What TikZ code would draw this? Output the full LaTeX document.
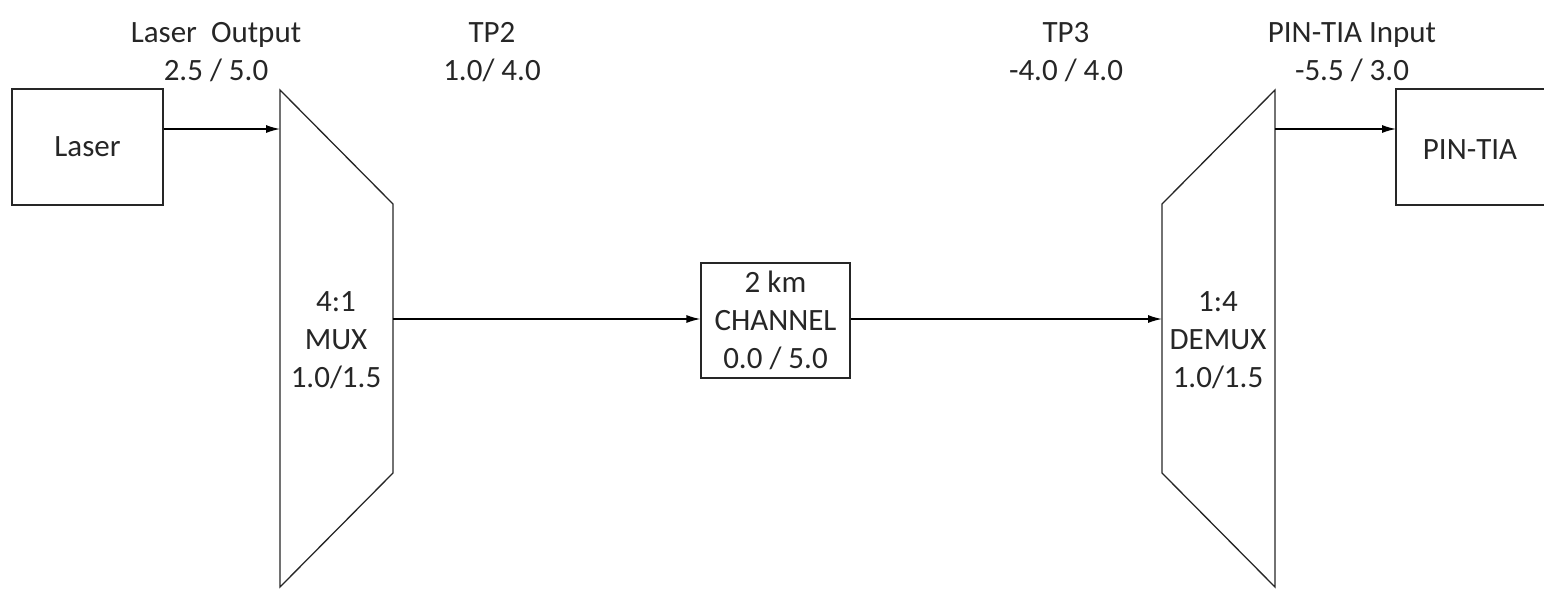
\documentclass[tikz,border=0pt]{standalone}
\usepackage{fontspec}
\setmainfont{Carlito}
\usetikzlibrary{arrows.meta}
\tikzset{
  wire/.style={line width=1.3pt,-{Latex[length=14pt,width=8pt]}},
  shapeline/.style={line width=1.3pt,draw=black!85},
  lbl/.style={align=center,font=\fontsize{31}{38}\selectfont,text=black!85,inner sep=0pt},
  boxnode/.style={draw=black!85,line width=1.3pt,align=center,font=\fontsize{31}{38}\selectfont,text=black!85,inner sep=0pt}
}
\begin{document}
\begin{tikzpicture}[x=1pt,y=-1pt]
\useasboundingbox (0,0) rectangle (1544,589);
% Laser box
\node[boxnode,minimum width=151pt,minimum height=116pt] (laser) at (87.5,147) {Laser};
% MUX trapezoid
\draw[shapeline] (280,90) -- (393,204) -- (393,473) -- (280,587) -- cycle;
\node[lbl] (mux) at (336,340) {4:1\\MUX\\1.0/1.5};
\coordinate (muxin) at (280,129);
\coordinate (muxout) at (393,319);
% Channel
\node[boxnode,minimum width=149pt,minimum height=115pt] (chan) at (775.5,320.5) {2 km\\CHANNEL\\0.0 / 5.0};
% DEMUX trapezoid
\draw[shapeline] (1275,90) -- (1162,204) -- (1162,473) -- (1275,587) -- cycle;
\node[lbl] (demux) at (1218,340) {1:4\\DEMUX\\1.0/1.5};
\coordinate (demuxin) at (1162,319);
\coordinate (demuxout) at (1275,129);
% PIN-TIA box (cut at the right edge)
\draw[shapeline] (1544,89) -- (1396,89) -- (1396,205) -- (1544,205);
\node[lbl] (pin) at (1470,150) {PIN-TIA};
\coordinate (pinin) at (1396,129);
% connectors
\draw[wire] (laser.east |- muxin) -- (muxin);
\draw[wire] (muxout) -- (chan.west |- muxout);
\draw[wire] (chan.east |- demuxin) -- (demuxin);
\draw[wire] (demuxout) -- (pinin);
% top labels
\node[lbl] (l1) at (216,52) {Laser\ \ Output\\2.5 / 5.0};
\node[lbl] (l2) at (492,52) {TP2\\1.0/ 4.0};
\node[lbl] (l3) at (1066,52) {TP3\\-4.0 / 4.0};
\node[lbl] (l4) at (1352,52) {PIN-TIA Input\\-5.5 / 3.0};
\end{tikzpicture}
\end{document}
